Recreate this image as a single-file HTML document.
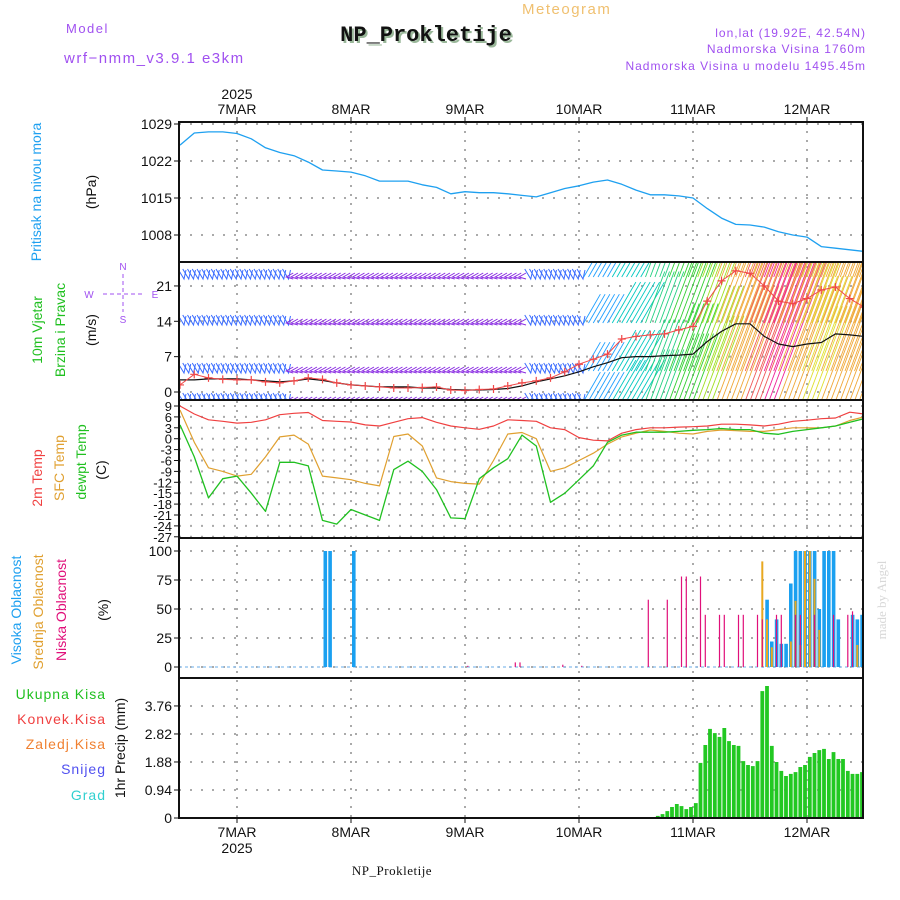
<!DOCTYPE html>
<html><head><meta charset="utf-8"><title>Meteogram NP_Prokletije</title>
<style>
html,body{margin:0;padding:0;background:#fff;}
svg{display:block;font-family:"Liberation Sans",sans-serif;}
</style></head>
<body>
<svg id="chart" width="900" height="900" viewBox="0 0 900 900" xmlns="http://www.w3.org/2000/svg">
<defs>
<clipPath id="cp1"><rect x="179" y="123" width="684" height="139"/></clipPath>
<clipPath id="cp2"><rect x="179" y="263" width="684" height="137"/></clipPath>
<clipPath id="cp3"><rect x="179" y="401" width="684" height="137"/></clipPath>
<clipPath id="cp4"><rect x="179" y="539" width="684" height="139"/></clipPath>
<clipPath id="cp5"><rect x="179" y="679" width="684" height="139"/></clipPath>
</defs>
<text x="66" y="33" font-size="13" fill="#a050f0" letter-spacing="1.5">Model</text>
<text x="64" y="63" font-size="15" fill="#a050f0" letter-spacing="1.5">wrf−nmm_v3.9.1 e3km</text>
<text x="522" y="14" font-size="15" fill="#f0c070" letter-spacing="1.5">Meteogram</text>
<text x="428" y="43" font-size="22" font-weight="bold" font-family="Liberation Mono, monospace" fill="#9ab89a" text-anchor="middle">NP_Prokletije</text>
<text x="426" y="41" font-size="22" font-weight="bold" font-family="Liberation Mono, monospace" fill="#111" text-anchor="middle">NP_Prokletije</text>
<text x="866" y="37" font-size="12" fill="#a050f0" text-anchor="end" letter-spacing="1">lon,lat (19.92E, 42.54N)</text>
<text x="866" y="53" font-size="12" fill="#a050f0" text-anchor="end" letter-spacing="1">Nadmorska Visina 1760m</text>
<text x="866" y="70" font-size="12" fill="#a050f0" text-anchor="end" letter-spacing="1">Nadmorska Visina u modelu 1495.45m</text>
<text x="237" y="99" font-size="14" text-anchor="middle" fill="#111">2025</text>
<text x="392" y="875" font-size="13" font-family="Liberation Serif, serif" fill="#111" text-anchor="middle" letter-spacing="0.5">NP_Prokletije</text>
<text transform="translate(886,600) rotate(-90)" font-size="13" font-family="Liberation Serif, serif" fill="#d8d8d8" text-anchor="middle">made by Angel</text>
<g font-size="14" text-anchor="middle">
<text transform="translate(41,192) rotate(-90)" fill="#1ea0f0">Pritisak na nivou mora</text>
<text transform="translate(96,192) rotate(-90)" fill="#111">(hPa)</text>
<text transform="translate(42,330) rotate(-90)" fill="#20c020">10m Vjetar</text>
<text transform="translate(65,330) rotate(-90)" fill="#20c020">Brzina i Pravac</text>
<text transform="translate(96,330) rotate(-90)" fill="#111">(m/s)</text>
<text transform="translate(42,478) rotate(-90)" fill="#f04040">2m Temp</text>
<text transform="translate(64,468) rotate(-90)" fill="#e0a030">SFC Temp</text>
<text transform="translate(86,462) rotate(-90)" fill="#20c020">dewpt Temp</text>
<text transform="translate(106,470) rotate(-90)" fill="#111">(C)</text>
<text transform="translate(21,610) rotate(-90)" fill="#1ea0f0">Visoka Oblacnost</text>
<text transform="translate(43,612) rotate(-90)" fill="#e0a030">Srednja Oblacnost</text>
<text transform="translate(66,610) rotate(-90)" fill="#e0107a">Niska Oblacnost</text>
<text transform="translate(108,610) rotate(-90)" fill="#111">(%)</text>
<text transform="translate(125,748) rotate(-90)" fill="#111">1hr Precip (mm)</text>
</g>
<g font-size="14" text-anchor="end" letter-spacing="1">
<text x="106" y="699" fill="#20c020">Ukupna  Kisa</text>
<text x="106" y="724" fill="#f04040">Konvek.Kisa</text>
<text x="106" y="749" fill="#f08030">Zaledj.Kisa</text>
<text x="106" y="774" fill="#5050f0">Snijeg</text>
<text x="106" y="800" fill="#30d0d0">Grad</text>
</g>
<g fill="#a050f0" stroke="#a050f0" font-size="10" text-anchor="middle">
<text x="123" y="270" stroke="none">N</text>
<text x="123" y="323" stroke="none">S</text>
<text x="89" y="298" stroke="none">W</text>
<text x="155" y="298" stroke="none">E</text>
<line x1="123" y1="274" x2="123" y2="312" stroke-width="1" stroke-dasharray="4,3"/>
<line x1="103" y1="294" x2="143" y2="294" stroke-width="1" stroke-dasharray="4,3"/>
</g>
<g id="grid"></g>
<g id="marks"></g>
<g id="frame"></g>
</svg>
<script>
const dayLabels = ["7MAR","8MAR","9MAR","10MAR","11MAR","12MAR"];
const dayHours = [0,24,48,72,96,120];
const hours3 = [-12,-9,-6,-3,0,3,6,9,12,15,18,21,24,27,30,33,36,39,42,45,48,51,54,57,60,63,66,69,72,75,78,81,84,87,90,93,96,99,102,105,108,111,114,117,120,123,126,129,132];
const pressure = [1025,1027.3,1027.5,1027.5,1027.2,1026.2,1024.5,1023.6,1023,1021.8,1020.3,1020.1,1019.9,1019.2,1018.2,1018.2,1018.2,1017.5,1017,1015.8,1016.2,1016,1016,1015.8,1015.5,1015.2,1016,1016.8,1017.3,1018,1018.4,1017.6,1016.5,1015.6,1015.6,1015.4,1015,1013,1011.2,1010,1009.9,1009.5,1008.6,1008,1007.6,1005.8,1005.5,1005.2,1004.9];
const windSpeed = [2.4,2.4,2.6,2.6,2.6,2.4,2.2,2.0,2.2,2.6,2.3,1.8,1.4,1.2,1.0,1.0,1.0,0.8,0.8,0.5,0.4,0.4,0.5,0.7,1.2,2.0,2.6,3.2,4.0,5.0,5.8,6.8,7.0,7.0,7.2,7.3,7.5,10,12,13.5,13.5,11,9.5,9,9.5,9.8,11.5,11.3,11];
const windGust = [1.4,3.5,2.8,2.5,2.4,2.4,2.0,1.8,2.2,2.8,2.5,1.8,1.4,1.2,1.0,0.8,0.8,0.9,1.0,0.4,0.3,0.5,0.6,1.2,1.8,2.2,2.8,4.0,5.5,6.5,7.5,10.5,11.0,11.3,11.5,12.3,13,18,22,24,23.5,21,18,17.5,18.5,20.2,20.8,18.5,16.8];
const temp2m = [9,6.8,5.2,4.8,4.3,4.5,5.2,6.6,7,7.2,5,4.8,4.6,3.8,3.5,4.5,5.5,5.8,4.5,3.5,3.0,2.6,3.5,5.2,5.0,4.8,3.0,2.5,0.3,-0.4,-0.6,1.5,2.5,3.0,3.0,3.2,3.3,3.5,4.0,4,3.8,3.5,4,4.8,5.1,5.5,5.7,7.3,6.8];
const tempSfc = [7.9,-1,-8,-9,-10.3,-9.8,-5,0.5,1.0,-1.5,-10.3,-10.8,-11.3,-12.3,-13,0.6,1.3,-2,-10.8,-11.8,-12.3,-12.5,-6,1.3,1.7,0,-9,-8,-6,-4,-1.5,0.5,1.5,2.4,2.0,1.5,1.3,2.0,2.4,2.2,2.0,2.0,2.5,3,3,3,3.5,5,6];
const dewpt = [3.8,-5,-16.3,-11,-10.3,-15,-20,-6.5,-6.5,-7.5,-22.5,-23.5,-19.5,-21,-22.5,-8.5,-6.2,-9,-14,-21.8,-22,-11,-8,-5.5,1,-2,-17.5,-15,-11.3,-7.5,-1,1,1.8,1.8,1.8,2,2.3,2.5,2.8,2.5,2.5,1.5,1.2,2,2.5,3,3.5,4.5,5.5];
const vecSpeed = [5,5,5,5,5,5,5,5,5,5,5,5,5,5,5,5,5,5,4,4,4,4,4,
3,3,3,3,3,3,3,3,3,3,3,3,3,3,3,3,3,3,3,3,3,3,3,3,3,3,3,3,3,3,3,3,3,3,3,3,3,3,3,3,3,3,3,3,3,3,3,3,3,3,
4,4,4,4,4,4,5,5,5,5,5,5,7,7,7,7,7,7,9,9,9,9,9,9,9,10,10,10,10,10,12,12,12,12,12,12,14,14,14,14,
17,17,17,17,17,17,20,20,20,20,22,22,22,17,17,17,17,17,15,15,15,15,17,17,17,17,17,17,17,17,17,17];
const highHours = [18,19,24,111,112,113,114,115,116,117,118,119,120,121,122,123,124,125,126,129,130,131];
const highCloud = [100,100,100,58,22,41,20,20,72,100,100,100,100,100,50,100,100,100,41,45,41,45];
const midHours = [110,111,112,116,117,118,119,120,121,122,130];
const midCloud = [91,41,17,22,57,19,100,100,76,32,19];
const lowHours = [48,58,59,68,72,86,90,93,94,97,98,101,102,105,106,109,110,113,114,117,118,121,125,128,129];
const lowCloud = [1,4,4,2,1,58,58,78,78,78,45,45,45,45,45,45,41,45,45,45,45,45,45,45,48];
const precipHours = [88,89,90,91,92,93,94,95,96,97,98,99,100,101,102,103,104,105,106,107,108,109,110,111,112,113,114,115,116,117,118,119,120,121,122,123,124,125,126,127,128,129,130,131];
const precip = [0.07,0.13,0.23,0.37,0.47,0.40,0.30,0.37,0.50,1.85,2.45,2.99,2.85,2.72,3.02,2.58,2.45,2.42,1.91,1.78,1.74,1.91,4.26,4.43,2.42,1.88,1.58,1.41,1.48,1.54,1.71,1.78,2.05,2.18,2.28,2.32,1.98,2.21,1.98,1.98,1.58,1.48,1.48,1.54];
const pTicks = [1029,1022,1015,1008];
const wTicks = [0,7,14,21];
const tTicks = [9,6,3,0,-3,-6,-9,-12,-15,-18,-21,-24,-27];
const cTicks = [0,25,50,75,100];
const rTicks = ["0","0.94","1.88","2.82","3.76"];

const X0=179, X1=863;
const xS = h => 237 + h*4.75;
const yP = v => 124 + (1029 - v)*5.286;
const yW = v => 392 - v*5.05;
const yT = v => 406 + (9 - v)*3.633;
const yC = v => 667 - v*1.16;
const yR = v => 818 - v*29.8;
const panels = [[122,262],[262,400],[400,538],[538,678],[678,818]];

const NS="http://www.w3.org/2000/svg";
const grid=document.getElementById('grid'), marks=document.getElementById('marks'), frame=document.getElementById('frame');
function mk(tag, attrs, parent){const e=document.createElementNS(NS,tag);for(const k in attrs)e.setAttribute(k,attrs[k]);parent.appendChild(e);return e;}

dayHours.forEach((h,i)=>{
  const x=xS(h);
  const g=mk('line',{x1:x,y1:122,x2:x,y2:818,stroke:'#aaa','stroke-width':2,'stroke-dasharray':'2,7'},grid);
  
  
  const t=mk('text',{x:x,y:114,'font-size':14,'text-anchor':'middle',fill:'#111'},grid);
  t.textContent=dayLabels[i];
  
  
  const b=mk('text',{x:x,y:837,'font-size':14,'text-anchor':'middle',fill:'#111'},grid);
  b.textContent=dayLabels[i];
  
  
  mk('line',{x1:x,y1:117,x2:x,y2:122,stroke:'#111'},grid);
  mk('line',{x1:x,y1:818,x2:x,y2:823,stroke:'#111'},grid);
});
const yr=mk('text',{x:237,y:853,'font-size':14,'text-anchor':'middle',fill:'#111'},grid);
yr.textContent='2025';



function hTicks(vals, yf, labels, fs, name){
  vals.forEach((v,i)=>{
    const y=yf(v);
    const gl=mk('line',{x1:X0,y1:y,x2:X1,y2:y,stroke:'#aaa','stroke-width':2,'stroke-dasharray':'2,9'},grid);
    
    
    mk('line',{x1:X0-5,y1:y,x2:X0,y2:y,stroke:'#111'},grid);
    const t=mk('text',{x:X0-7,y:y+5,'font-size':fs,'text-anchor':'end',fill:'#111'},grid);
    t.textContent=labels?labels[i]:String(v);
    
    
  });
}
hTicks(pTicks,yP,null,14,'pressure');
hTicks(wTicks,yW,null,14,'wind');
hTicks(tTicks,yT,null,13,'temp');
hTicks(cTicks,yC,null,14,'cloud');
hTicks(rTicks.map(Number),yR,rTicks,14,'precip');

function line(xs, ys, xf, yf, color, clip, name, w){
  const d=xs.map((h,i)=>(i?'L':'M')+xf(h).toFixed(1)+','+yf(ys[i]).toFixed(1)).join('');
  const p=mk('path',{d:d,fill:'none',stroke:color,'stroke-width':w||1.3,'clip-path':'url(#'+clip+')','stroke-linejoin':'round'},marks);
  
  
  return p;
}
line(hours3,pressure,xS,yP,'#1ea0f0','cp1','pressure-line',1.3);

function vcol(s){
  if(s<=3)return '#8a2be2'; if(s<=5)return '#3a6cff'; if(s<=7)return '#1e9fff';
  if(s<=9)return '#00c8c0'; if(s<=10)return '#20d080'; if(s<=12)return '#30d030';
  if(s<=14)return '#a0e020'; if(s<=15)return '#e0e030'; if(s<=17)return '#f0a838'; if(s<=20)return '#f05858'; return '#f0209a';
}
const rowY=[277,323,371,401];
const vg=mk('g',{'clip-path':'url(#cp2)'},marks);


vecSpeed.forEach((s,i)=>{
  const h=i-12, x=xS(h), c=vcol(s);
  rowY.forEach(ry=>{
    if(s<=3){
      const v=mk('polyline',{points:(x+4)+','+(ry-4)+' '+(x-3)+','+ry+' '+(x+4)+','+(ry+2),fill:'none',stroke:c,'stroke-width':1},vg);
      
      
    } else if(s<=5){
      const v=mk('polyline',{points:(x-2)+','+(ry-8)+' '+(x+4)+','+(ry+2)+' '+(x+6)+','+(ry-7),fill:'none',stroke:c,'stroke-width':1},vg);
      
      
    } else {
      const L=3*s+0.25*s*s, dx=(s<10?0.5:0.35), dy=-Math.sqrt(1-dx*dx);
      const v=mk('line',{x1:x,y1:ry,x2:x+dx*L,y2:ry+dy*L,stroke:c,'stroke-width':0.9},vg);
      
      
    }
  });
});
line(hours3,windSpeed,xS,yW,'#111','cp2','wind-speed-line',1.2);
line(hours3,windGust,xS,yW,'#f04848','cp2','wind-gust-line',1);
hours3.forEach((h,i)=>{
  const x=xS(h), y=yW(windGust[i]);
  const m=mk('path',{d:'M'+(x-4)+','+y+'h8M'+x+','+(y-4)+'v8',stroke:'#f04848','stroke-width':1.2,'clip-path':'url(#cp2)'},marks);
  
  
});

line(hours3,temp2m,xS,yT,'#f04040','cp3','temp-2m-line',1.2);
line(hours3,tempSfc,xS,yT,'#e0a030','cp3','temp-sfc-line',1.2);
line(hours3,dewpt,xS,yT,'#20c020','cp3','dewpoint-line',1.3);

function bars(hs, vals, color, w, yf, clip, name){
  hs.forEach((h,i)=>{
    const x=xS(h)+2.8, y=yf(vals[i]), y0=yf(0);
    const r=mk('rect',{x:(x-w/2).toFixed(1),y:y.toFixed(1),width:w,height:Math.max(0.5,y0-y).toFixed(1),fill:color,'clip-path':'url(#'+clip+')'},marks);
    
    
  });
}
mk('line',{x1:X0,y1:yC(0),x2:X1,y2:yC(0),stroke:'#9cc8f0','stroke-width':1.5,'stroke-dasharray':'3,3'},marks);
bars(highHours,highCloud,'#1aa0f0',3.6,yC,'cp4','high-cloud-bar');
bars(midHours,midCloud,'#e8a820',2,yC,'cp4','mid-cloud-bar');
bars(lowHours,lowCloud,'#e0107a',1.2,yC,'cp4','low-cloud-bar');

bars(precipHours,precip,'#22c822',3.8,yR,'cp5','precip-bar');

panels.forEach(p=>{
  const r=mk('rect',{x:X0,y:p[0],width:X1-X0,height:p[1]-p[0],fill:'none',stroke:'#111','stroke-width':2},frame);
  
  
});
</script>
</body></html>
